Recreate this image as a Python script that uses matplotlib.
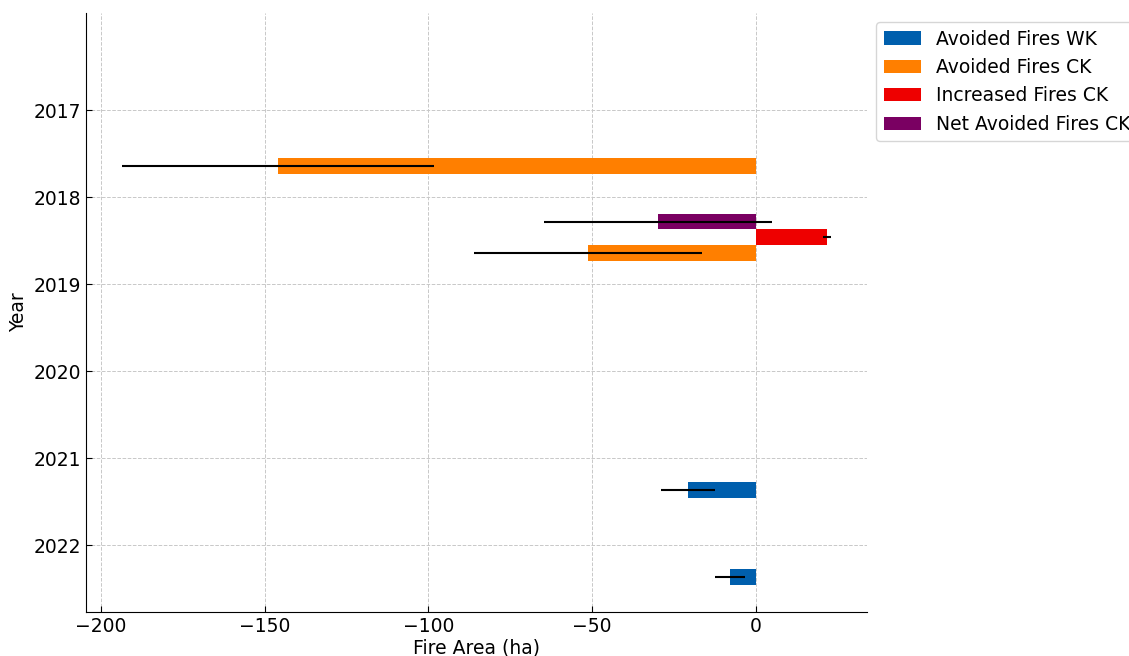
import matplotlib.pyplot as plt

# avoided / increased fire area per year (ha), with standard errors
wk_years = [2021, 2022]
wk_avoided = [-20.8, -7.9]
wk_avoided_err = [8.2, 4.5]

ck_years = [2017, 2018]
ck_avoided = [-145.9, -51.2]
ck_avoided_err = [47.6, 34.8]

ck_inc_years = [2018]
ck_increased = [21.6]
ck_increased_err = [1.2]

ck_net_years = [2018]
ck_net = [-29.8]
ck_net_err = [34.8]

bar_h = 0.18
off_wk, off_net, off_inc, off_ck = 0.36, 0.28, 0.46, 0.64

plt.rcParams['font.family'] = 'DejaVu Sans'
plt.rcParams['font.size'] = 13.5

fig = plt.figure(figsize=(11.29, 6.56), dpi=100)
ax = fig.add_axes([0.0766, 0.0678, 0.6914, 0.9128])

err_kw = dict(ecolor='black', elinewidth=1.5, capsize=0)

ax.barh([y + off_wk for y in wk_years], wk_avoided, height=bar_h,
        xerr=wk_avoided_err, color='#005FAD', label='Avoided Fires WK', error_kw=err_kw)
ax.barh([y + off_ck for y in ck_years], ck_avoided, height=bar_h,
        xerr=ck_avoided_err, color='#FF7F00', label='Avoided Fires CK', error_kw=err_kw)
ax.barh([y + off_inc for y in ck_inc_years], ck_increased, height=bar_h,
        xerr=ck_increased_err, color='#EE0000', label='Increased Fires CK', error_kw=err_kw)
ax.barh([y + off_net for y in ck_net_years], ck_net, height=bar_h,
        xerr=ck_net_err, color='#7A0062', label='Net Avoided Fires CK', error_kw=err_kw)

ax.set_yticks([2017, 2018, 2019, 2020, 2021, 2022])
ax.set_ylim(2022.76, 2015.88)
ax.set_xlim(-204.4, 33.9)
ax.set_xlabel('Fire Area (ha)', labelpad=2)
ax.set_ylabel('Year')
ax.tick_params(direction='in', length=4, pad=4)

ax.grid(True, linestyle='--', color='#c8c8c8', linewidth=0.7)
ax.set_axisbelow(True)
ax.spines['top'].set_visible(False)
ax.spines['right'].set_visible(False)

ax.legend(loc='upper left', bbox_to_anchor=(1.0, 1.0), edgecolor='#cccccc')

fig.savefig('out.png', dpi=100)
